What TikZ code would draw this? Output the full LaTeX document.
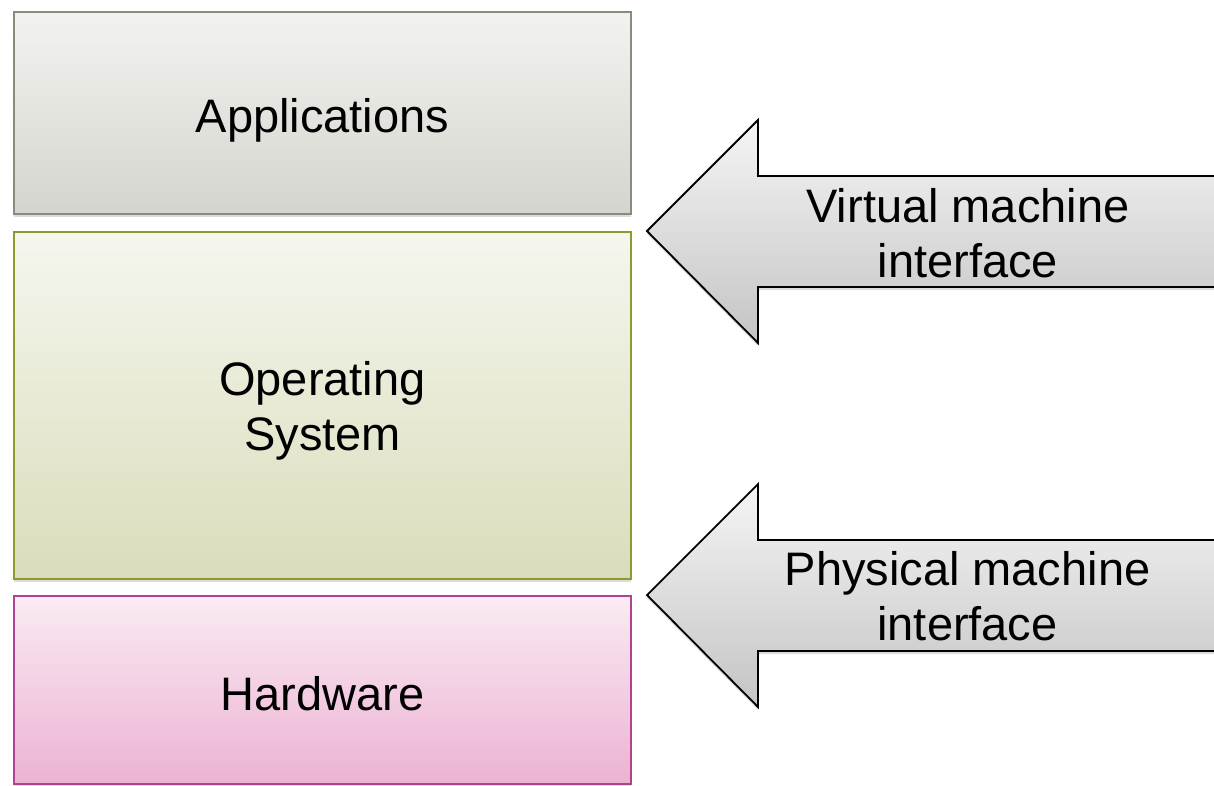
\documentclass[tikz,border=0pt]{standalone}
\usepackage{fontspec}
\setmainfont{Liberation Sans}
\usetikzlibrary{shadows}

\definecolor{appsTop}{HTML}{F2F2EF}
\definecolor{appsBot}{HTML}{D5D5CF}
\definecolor{appsLine}{HTML}{8B8B7D}
\definecolor{osTop}{HTML}{F5F6EE}
\definecolor{osBot}{HTML}{DADDBB}
\definecolor{osLine}{HTML}{8F992E}
\definecolor{hwTop}{HTML}{FAEBF3}
\definecolor{hwBot}{HTML}{ECB2D2}
\definecolor{hwLine}{HTML}{B2428F}
\definecolor{arrTop}{HTML}{F5F5F5}
\definecolor{arrBot}{HTML}{C4C4C4}

\tikzset{
  softshadow/.style={drop shadow={opacity=0.28, shadow xshift=0pt, shadow yshift=-3pt}},
  layer/.style={rectangle, line width=1.5pt, minimum width=617pt, inner sep=0pt,
    softshadow},
  ifarrow/.style={draw=black, line width=1.8pt, line join=miter,
    top color=arrTop, bottom color=arrBot, softshadow},
  iflabel/.style={font=\fontsize{47}{55}\selectfont, align=center, inner sep=0pt},
}

\begin{document}
\begin{tikzpicture}[x=1pt, y=-1pt]
  \useasboundingbox (0,0) rectangle (1214,785);
  \clip (0,0) rectangle (1214,785);

  % layer stack
  \node[layer, minimum height=202pt, draw=appsLine, top color=appsTop, bottom color=appsBot]
    (apps) at (322.5,113) {};
  \node[layer, minimum height=347pt, draw=osLine, top color=osTop, bottom color=osBot]
    (os) at (322.5,405.5) {};
  \node[layer, minimum height=188pt, draw=hwLine, top color=hwTop, bottom color=hwBot]
    (hw) at (322.5,690) {};

  % labels are anchored on the baseline of their last line
  \node[iflabel, anchor=base] (appstext) at (322.5,132) {Applications};
  \node[iflabel, anchor=base] (ostext) at (322.5,450) {Operating\\System};
  \node[iflabel, anchor=base] (hwtext) at (322.5,710) {Hardware};

  % interface arrows
  \coordinate (vtip) at (647,231);
  \coordinate (ptip) at (647,595);
  \foreach \t in {vtip,ptip}
    \path[ifarrow] (\t) -- ++(111,-111) -- ++(0,56) -- ++(520,0) -- ++(0,111)
      -- ++(-520,0) -- ++(0,56) -- cycle;

  \node[iflabel, anchor=base] (vmi) at (968,277) {Virtual machine\\interface};
  \node[iflabel, anchor=base] (pmi) at (967.5,640) {Physical machine\\interface};
\end{tikzpicture}
\end{document}
